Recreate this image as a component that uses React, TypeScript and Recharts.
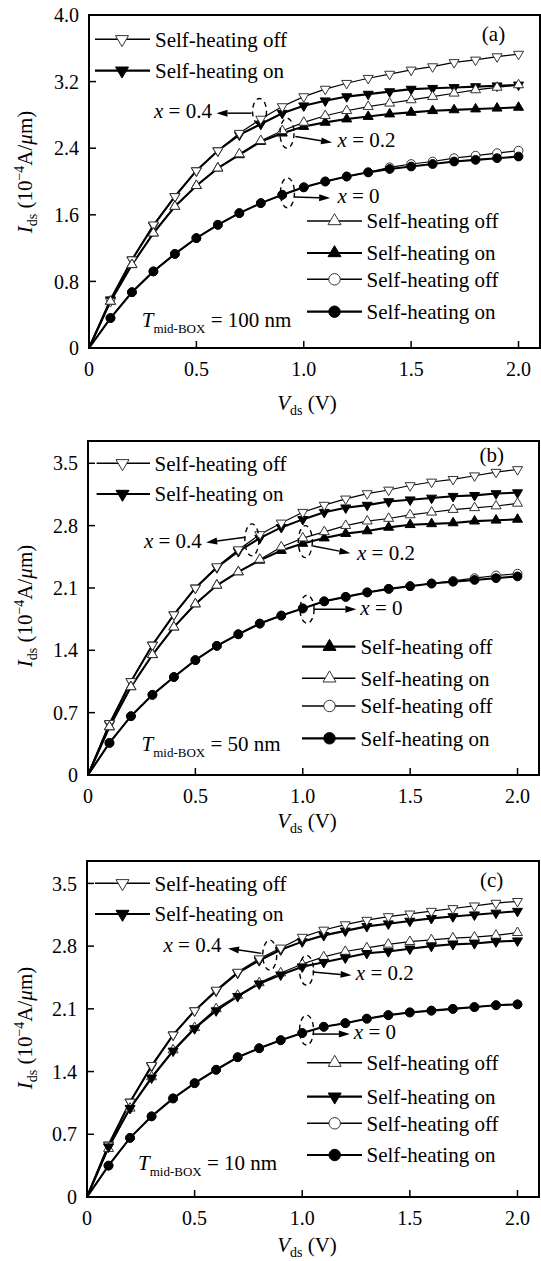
import React from 'react';
import { LineChart, Line, XAxis, YAxis, ReferenceArea, ReferenceDot } from 'recharts';

const FONT = '"Liberation Serif", "Times New Roman", serif';

// drain voltage steps (V)
const vds = [0, 0.1, 0.2, 0.3, 0.4, 0.5, 0.6, 0.7, 0.8, 0.9, 1.0, 1.1, 1.2, 1.3, 1.4, 1.5, 1.6, 1.7, 1.8, 1.9, 2.0];

const xTicks = [0, 0.5, 1.0, 1.5, 2.0];
const yTicksA = [0, 0.8, 1.6, 2.4, 3.2, 4.0];
const yTicksBC = [0, 0.7, 1.4, 2.1, 2.8, 3.5];

// (a) T_mid-BOX = 100 nm, Ids in 1e-4 A/um
const a04Off = [0, 0.56, 1.06, 1.48, 1.82, 2.13, 2.37, 2.58, 2.75, 2.90, 3.02, 3.11, 3.18, 3.24, 3.29, 3.34, 3.38, 3.43, 3.46, 3.50, 3.53];
const a04On = [0, 0.58, 1.06, 1.47, 1.82, 2.13, 2.37, 2.56, 2.69, 2.82, 2.91, 2.97, 3.02, 3.05, 3.08, 3.11, 3.12, 3.13, 3.14, 3.15, 3.16];
const a02Off = [0, 0.56, 1.00, 1.38, 1.70, 1.95, 2.16, 2.33, 2.49, 2.61, 2.71, 2.79, 2.85, 2.90, 2.94, 2.98, 3.02, 3.06, 3.10, 3.13, 3.16];
const a02On = [0, 0.56, 1.00, 1.38, 1.70, 1.95, 2.16, 2.32, 2.48, 2.58, 2.66, 2.71, 2.75, 2.78, 2.81, 2.83, 2.85, 2.86, 2.87, 2.88, 2.89];
const a0Off = [0, 0.36, 0.67, 0.92, 1.13, 1.32, 1.48, 1.62, 1.74, 1.84, 1.93, 2.00, 2.06, 2.11, 2.17, 2.21, 2.24, 2.28, 2.31, 2.34, 2.37];
const a0On = [0, 0.36, 0.67, 0.92, 1.13, 1.32, 1.48, 1.62, 1.74, 1.84, 1.93, 2.00, 2.06, 2.11, 2.15, 2.18, 2.21, 2.24, 2.26, 2.28, 2.30];

// (b) T_mid-BOX = 50 nm
const b04Off = [0, 0.58, 1.05, 1.46, 1.80, 2.10, 2.34, 2.53, 2.70, 2.83, 2.95, 3.03, 3.10, 3.16, 3.20, 3.25, 3.29, 3.32, 3.36, 3.40, 3.43];
const b04On = [0, 0.57, 1.05, 1.46, 1.80, 2.10, 2.33, 2.51, 2.66, 2.78, 2.87, 2.95, 3.00, 3.03, 3.07, 3.09, 3.11, 3.13, 3.14, 3.16, 3.17];
const b02Open = [0, 0.54, 0.99, 1.35, 1.66, 1.92, 2.13, 2.28, 2.42, 2.56, 2.66, 2.73, 2.80, 2.85, 2.88, 2.92, 2.95, 2.98, 3.00, 3.02, 3.05];
const b02Filled = [0, 0.54, 0.99, 1.35, 1.66, 1.92, 2.13, 2.28, 2.41, 2.52, 2.60, 2.66, 2.71, 2.74, 2.78, 2.81, 2.82, 2.83, 2.85, 2.86, 2.87];
const b0Off = [0, 0.36, 0.66, 0.90, 1.10, 1.29, 1.45, 1.58, 1.70, 1.79, 1.87, 1.95, 2.00, 2.05, 2.09, 2.12, 2.15, 2.18, 2.21, 2.24, 2.26];
const b0On = [0, 0.36, 0.66, 0.90, 1.10, 1.29, 1.45, 1.58, 1.70, 1.79, 1.87, 1.95, 2.00, 2.05, 2.09, 2.12, 2.15, 2.17, 2.19, 2.21, 2.23];

// (c) T_mid-BOX = 10 nm
const c04Off = [0, 0.58, 1.06, 1.47, 1.81, 2.08, 2.31, 2.51, 2.66, 2.78, 2.90, 2.98, 3.04, 3.09, 3.13, 3.16, 3.19, 3.22, 3.25, 3.28, 3.30];
const c04On = [0, 0.58, 1.06, 1.46, 1.81, 2.08, 2.30, 2.50, 2.64, 2.76, 2.85, 2.92, 2.97, 3.02, 3.05, 3.08, 3.11, 3.13, 3.15, 3.17, 3.19];
const c02Off = [0, 0.54, 0.99, 1.34, 1.64, 1.89, 2.10, 2.25, 2.39, 2.50, 2.60, 2.68, 2.74, 2.78, 2.82, 2.85, 2.87, 2.89, 2.90, 2.92, 2.95];
const c02On = [0, 0.56, 0.99, 1.33, 1.63, 1.88, 2.08, 2.24, 2.38, 2.48, 2.57, 2.62, 2.67, 2.72, 2.74, 2.77, 2.80, 2.82, 2.83, 2.85, 2.86];
const c0Off = [0, 0.35, 0.66, 0.90, 1.10, 1.27, 1.42, 1.56, 1.66, 1.75, 1.83, 1.90, 1.94, 1.99, 2.03, 2.06, 2.08, 2.10, 2.12, 2.14, 2.15];
const c0On = [0, 0.35, 0.66, 0.90, 1.10, 1.27, 1.42, 1.56, 1.66, 1.75, 1.83, 1.90, 1.94, 1.99, 2.03, 2.06, 2.08, 2.10, 2.12, 2.14, 2.15];

type Marker = 'down' | 'up' | 'circle';

interface SeriesDef {
  key: string;
  values: number[];
  marker: Marker;
  filled: boolean;
  thick: boolean;
}

interface LegendItem {
  marker: Marker;
  filled: boolean;
  thick: boolean;
  text: string;
}

interface LegendBlock {
  x1: number;
  x2: number;
  mx: number;
  tx: number;
  rows: number[];
  items: LegendItem[];
}

interface Note {
  x: number;
  y: number;
  rx: number;
  ry: number;
  tail: [number, number];
  tip: [number, number];
  label: string;
  tx: number;
  ty: number;
  anchor: 'start' | 'end';
}

interface PanelDef {
  top: number;
  height: number;
  margin: { top: number; right: number; left: number; bottom: number };
  yMax: number;
  yTicks: number[];
  series: SeriesDef[];
  legends: LegendBlock[];
  notes: Note[];
  tag: string;
  tagPos: [number, number];
  tbox: string;
  tboxPos: [number, number];
  yTitle: [number, number];
  xTitle: [number, number];
}

const markerShape = (m: Marker, filled: boolean, cx: number, cy: number, s: number) => {
  const fill = filled ? '#000' : '#fff';
  const stroke = filled ? '#000' : '#333';
  if (m === 'circle') {
    return <circle cx={cx} cy={cy} r={s * 0.88} fill={fill} stroke={stroke} strokeWidth={1} />;
  }
  const h = s * 1.7;
  const pts =
    m === 'down'
      ? `${cx - s},${cy - h / 3} ${cx + s},${cy - h / 3} ${cx},${cy + (2 * h) / 3}`
      : `${cx - s},${cy + h / 3} ${cx + s},${cy + h / 3} ${cx},${cy - (2 * h) / 3}`;
  return <polygon points={pts} fill={fill} stroke={stroke} strokeWidth={1} strokeLinejoin="miter" />;
};

const renderDot = (s: SeriesDef) => (props: any) => {
  const { cx, cy, index } = props;
  const k = `${s.key}-${index}`;
  if (index === 0 || cx == null || cy == null) return <g key={k} />;
  return <g key={k}>{markerShape(s.marker, s.filled, cx, cy, 5)}</g>;
};

// dashed ellipse around a curve group with an arrow to its "x = ..." label
const renderNote = (n: Note) => (props: any) => {
  const { cx, cy } = props;
  const x1 = cx + n.tail[0];
  const y1 = cy + n.tail[1];
  const x2 = cx + n.tip[0];
  const y2 = cy + n.tip[1];
  const ang = Math.atan2(y2 - y1, x2 - x1);
  const hl = 11;
  const hw = 3.5;
  const bx = x2 - hl * Math.cos(ang);
  const by = y2 - hl * Math.sin(ang);
  const head = `${x2},${y2} ${bx - hw * Math.sin(ang)},${by + hw * Math.cos(ang)} ${bx + hw * Math.sin(ang)},${by - hw * Math.cos(ang)}`;
  return (
    <g>
      <ellipse cx={cx} cy={cy} rx={n.rx} ry={n.ry} fill="none" stroke="#000" strokeWidth={1.4} strokeDasharray="5 4" />
      <line x1={x1} y1={y1} x2={bx} y2={by} stroke="#000" strokeWidth={1.5} />
      <polygon points={head} fill="#000" />
      <text x={cx + n.tx} y={cy + n.ty} textAnchor={n.anchor} fontFamily={FONT} fontSize={21} fill="#000">
        <tspan fontStyle="italic">x</tspan>
        <tspan>{` = ${n.label}`}</tspan>
      </text>
    </g>
  );
};

const fmt = (v: number) => (v === 0 ? '0' : v.toFixed(1));

const Panel = ({ p }: { p: PanelDef }) => {
  const rows = vds.map((v, i) => {
    const r: Record<string, number> = { vds: v };
    p.series.forEach((s) => {
      r[s.key] = s.values[i];
    });
    return r;
  });
  const tickStyle = { fill: '#000', fontSize: 20, fontFamily: FONT };
  return (
    <div style={{ position: 'absolute', left: 0, top: p.top, width: 541, height: p.height }}>
      <LineChart
        width={541}
        height={p.height}
        data={rows}
        margin={{ top: p.margin.top, right: p.margin.right, left: 0, bottom: 0 }}
      >
        <XAxis
          type="number"
          dataKey="vds"
          domain={[0, 2.1]}
          ticks={xTicks}
          tickFormatter={fmt}
          height={p.margin.bottom}
          tickSize={-7}
          tickMargin={21}
          tick={tickStyle}
          axisLine={{ stroke: '#000', strokeWidth: 2 }}
          tickLine={{ stroke: '#000', strokeWidth: 1.5 }}
          allowDataOverflow
        />
        <YAxis
          type="number"
          domain={[0, p.yMax]}
          ticks={p.yTicks}
          tickFormatter={fmt}
          width={p.margin.left}
          tickSize={-7}
          tickMargin={17}
          tick={tickStyle}
          axisLine={{ stroke: '#000', strokeWidth: 2 }}
          tickLine={{ stroke: '#000', strokeWidth: 1.5 }}
          allowDataOverflow
        />
        <ReferenceArea
          x1={0}
          x2={2.1}
          y1={0}
          y2={p.yMax}
          fill="none"
          stroke="#000"
          strokeWidth={2}
          ifOverflow="visible"
        />
        {p.series.map((s) => (
          <Line
            key={s.key}
            type="linear"
            dataKey={s.key}
            stroke="#000"
            strokeWidth={s.thick ? 2.1 : 1.2}
            dot={renderDot(s)}
            activeDot={false}
            isAnimationActive={false}
          />
        ))}
        {p.notes.map((n, i) => (
          <ReferenceDot
            key={`note-${i}`}
            x={n.x}
            y={n.y}
            r={0}
            ifOverflow="visible"
            shape={renderNote(n)}
          />
        ))}
      </LineChart>
      <svg
        width={541}
        height={p.height}
        style={{ position: 'absolute', left: 0, top: 0, pointerEvents: 'none' }}
        fontFamily={FONT}
      >
        {p.legends.map((lg, li) =>
          lg.items.map((it, ii) => {
            const y = lg.rows[ii];
            return (
              <g key={`lg-${li}-${ii}`}>
                <line x1={lg.x1} y1={y} x2={lg.x2} y2={y} stroke="#000" strokeWidth={it.thick ? 2.2 : 1.4} />
                {markerShape(it.marker, it.filled, lg.mx, y, 6.5)}
                <text x={lg.tx} y={y + 7.4} fontSize={21} fill="#000">
                  {it.text}
                </text>
              </g>
            );
          })
        )}
        <text x={p.tagPos[0]} y={p.tagPos[1]} textAnchor="middle" fontSize={21} fill="#000">
          {p.tag}
        </text>
        <text x={p.tboxPos[0]} y={p.tboxPos[1]} fontSize={21} fill="#000">
          <tspan fontStyle="italic">T</tspan>
          <tspan fontSize={13} dy={6.3}>mid-BOX</tspan>
          <tspan dy={-6.3}>{` = ${p.tbox}`}</tspan>
        </text>
        <text
          transform={`translate(${p.yTitle[0]},${p.yTitle[1]}) rotate(-90)`}
          textAnchor="middle"
          fontSize={21}
          fill="#000"
        >
          <tspan fontStyle="italic">I</tspan>
          <tspan fontSize={14} dy={5}>ds</tspan>
          <tspan dy={-5}>{' (10'}</tspan>
          <tspan fontSize={14} dy={-8}>−4</tspan>
          <tspan dy={8}>A/</tspan>
          <tspan fontStyle="italic">μ</tspan>
          <tspan>m)</tspan>
        </text>
        <text x={p.xTitle[0]} y={p.xTitle[1]} textAnchor="middle" fontSize={21} fill="#000">
          <tspan fontStyle="italic">V</tspan>
          <tspan fontSize={14} dy={5}>ds</tspan>
          <tspan dy={-5}>{' (V)'}</tspan>
        </text>
      </svg>
    </div>
  );
};

const off = 'Self-heating off';
const on = 'Self-heating on';

const topLegend = (rows: number[], x1: number, x2: number, mx: number, tx: number): LegendBlock => ({
  x1,
  x2,
  mx,
  tx,
  rows,
  items: [
    { marker: 'down', filled: false, thick: false, text: off },
    { marker: 'down', filled: true, thick: true, text: on },
  ],
});

const panels: PanelDef[] = [
  {
    top: 0,
    height: 420,
    margin: { top: 15, right: 1, left: 89, bottom: 72 },
    yMax: 4.0,
    yTicks: yTicksA,
    series: [
      { key: 'x04on', values: a04On, marker: 'down', filled: true, thick: true },
      { key: 'x04off', values: a04Off, marker: 'down', filled: false, thick: false },
      { key: 'x02on', values: a02On, marker: 'up', filled: true, thick: true },
      { key: 'x02off', values: a02Off, marker: 'up', filled: false, thick: false },
      { key: 'x0off', values: a0Off, marker: 'circle', filled: false, thick: false },
      { key: 'x0on', values: a0On, marker: 'circle', filled: true, thick: true },
    ],
    legends: [
      topLegend([39.3, 70.7], 95, 150, 122, 155),
      {
        x1: 307,
        x2: 362,
        mx: 334.5,
        tx: 366.5,
        rows: [221, 253, 279.3, 311.7],
        items: [
          { marker: 'up', filled: false, thick: false, text: off },
          { marker: 'up', filled: true, thick: true, text: on },
          { marker: 'circle', filled: false, thick: false, text: off },
          { marker: 'circle', filled: true, thick: true, text: on },
        ],
      },
    ],
    notes: [
      { x: 0.794, y: 2.84, rx: 7, ry: 13, tail: [-8, 1.6], tip: [-43, 1.6], label: '0.4', tx: -47.6, ty: 6.6, anchor: 'end' },
      { x: 0.922, y: 2.58, rx: 7, ry: 15, tail: [8.3, 3.4], tip: [45, 9.4], label: '0.2', tx: 50.6, ty: 14, anchor: 'start' },
      { x: 0.924, y: 1.864, rx: 7, ry: 15, tail: [6.7, 4.3], tip: [42.7, 5.3], label: '0', tx: 50, ty: 10.3, anchor: 'start' },
    ],
    tag: '(a)',
    tagPos: [493.5, 40.5],
    tbox: '100 nm',
    tboxPos: [141.7, 326.7],
    yTitle: [32, 172],
    xTitle: [307, 410],
  },
  {
    top: 420,
    height: 420,
    margin: { top: 21, right: 2, left: 88, bottom: 65 },
    yMax: 3.75,
    yTicks: yTicksBC,
    series: [
      { key: 'x04on', values: b04On, marker: 'down', filled: true, thick: true },
      { key: 'x04off', values: b04Off, marker: 'down', filled: false, thick: false },
      { key: 'x02filled', values: b02Filled, marker: 'up', filled: true, thick: true },
      { key: 'x02open', values: b02Open, marker: 'up', filled: false, thick: false },
      { key: 'x0off', values: b0Off, marker: 'circle', filled: false, thick: false },
      { key: 'x0on', values: b0On, marker: 'circle', filled: true, thick: true },
    ],
    legends: [
      topLegend([43.3, 74], 96.6, 150, 122.5, 154.6),
      {
        x1: 302,
        x2: 355.4,
        mx: 329.5,
        tx: 360.6,
        rows: [226.7, 258.3, 286, 318.3],
        items: [
          { marker: 'up', filled: true, thick: true, text: off },
          { marker: 'up', filled: false, thick: false, text: on },
          { marker: 'circle', filled: false, thick: false, text: off },
          { marker: 'circle', filled: true, thick: true, text: on },
        ],
      },
    ],
    notes: [
      { x: 0.763, y: 2.64, rx: 7, ry: 16, tail: [-6.7, -2.7], tip: [-45.7, 2.7], label: '0.4', tx: -50, ty: 8.3, anchor: 'end' },
      { x: 1.012, y: 2.62, rx: 7, ry: 16, tail: [7.7, 4.3], tip: [45, 11.6], label: '0.2', tx: 51.7, ty: 18.3, anchor: 'start' },
      { x: 1.02, y: 1.861, rx: 7, ry: 14, tail: [6.6, 0], tip: [49.3, 0], label: '0', tx: 53.3, ty: 5.7, anchor: 'start' },
    ],
    tag: '(b)',
    tagPos: [491.7, 42.4],
    tbox: '50 nm',
    tboxPos: [141.5, 331],
    yTitle: [32, 186],
    xTitle: [307, 408],
  },
  {
    top: 840,
    height: 421,
    margin: { top: 21, right: 2, left: 87, bottom: 64 },
    yMax: 3.75,
    yTicks: yTicksBC,
    series: [
      { key: 'x04on', values: c04On, marker: 'down', filled: true, thick: true },
      { key: 'x04off', values: c04Off, marker: 'down', filled: false, thick: false },
      { key: 'x02off', values: c02Off, marker: 'up', filled: false, thick: false },
      { key: 'x02on', values: c02On, marker: 'down', filled: true, thick: true },
      { key: 'x0off', values: c0Off, marker: 'circle', filled: false, thick: false },
      { key: 'x0on', values: c0On, marker: 'circle', filled: true, thick: true },
    ],
    legends: [
      topLegend([43.3, 74], 95, 150, 122.5, 154.6),
      {
        x1: 307,
        x2: 362,
        mx: 334.7,
        tx: 366.5,
        rows: [222.7, 256.7, 283.3, 315],
        items: [
          { marker: 'up', filled: false, thick: false, text: off },
          { marker: 'down', filled: true, thick: true, text: on },
          { marker: 'circle', filled: false, thick: false, text: off },
          { marker: 'circle', filled: true, thick: true, text: on },
        ],
      },
    ],
    notes: [
      { x: 0.849, y: 2.7, rx: 7, ry: 15, tail: [-8.3, -1.7], tip: [-41.7, -6.7], label: '0.4', tx: -48.3, ty: -3.3, anchor: 'end' },
      { x: 1.02, y: 2.53, rx: 7, ry: 15, tail: [6, 1.7], tip: [45, 5], label: '0.2', tx: 49.3, ty: 10, anchor: 'start' },
      { x: 1.02, y: 1.863, rx: 7, ry: 15, tail: [6, 4], tip: [43.3, 4], label: '0', tx: 47.3, ty: 9.3, anchor: 'start' },
    ],
    tag: '(c)',
    tagPos: [491.7, 46.7],
    tbox: '10 nm',
    tboxPos: [138, 330],
    yTitle: [32, 188],
    xTitle: [307, 412],
  },
];

export default function App() {
  return (
    <div style={{ position: 'absolute', left: 0, top: 0, width: 541, height: 1261, background: '#fff' }}>
      {panels.map((p) => (
        <Panel key={p.tag} p={p} />
      ))}
    </div>
  );
}
